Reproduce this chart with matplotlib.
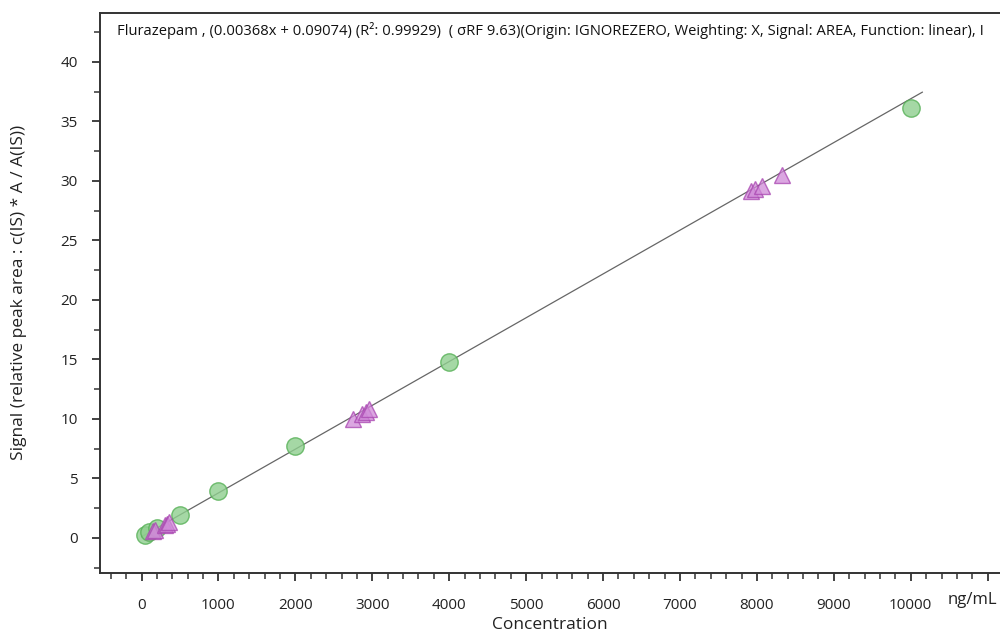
import numpy as np
import matplotlib
matplotlib.use('Agg')
import matplotlib.pyplot as plt
from matplotlib.ticker import MultipleLocator

# calibration standards (green circles)
std_conc = [50, 100, 200, 500, 1000, 2000, 4000, 10000]
std_signal = [0.25, 0.5, 0.85, 1.95, 3.95, 7.75, 14.75, 36.1]

# QC samples (purple triangles)
qc_conc = [150, 170, 300, 330, 360, 2750, 2870, 2920, 2960, 7920, 7980, 8060, 8320]
qc_signal = [0.55, 0.65, 1.05, 1.15, 1.3, 10.0, 10.4, 10.6, 10.85, 29.1, 29.3, 29.6, 30.5]

slope = 0.00368
intercept = 0.09074
line_x = [0, 10150]

title = ("Flurazepam , (0.00368x + 0.09074) (R\u00b2: 0.99929)  ( \u03c3RF 9.63)"
         "(Origin: IGNOREZERO, Weighting: X, Signal: AREA, Function: linear), I")

plt.rcParams['font.family'] = ['Open Sans', 'DejaVu Sans']

fig = plt.figure(figsize=(10, 6.32), dpi=100)
ax = fig.add_axes([0.1, 0.0935, 0.9, 0.886])

lx = np.array(line_x)
ax.plot(lx, slope * lx + intercept, color='#666666', lw=0.9, zorder=2)
ax.plot(std_conc, std_signal, 'o', ms=12.5, mfc='#8fcf8f', mec='#55b055',
        alpha=0.8, mew=1.0, zorder=3)
ax.plot(qc_conc, qc_signal, '^', ms=12, mfc='#d08ad8', mec='#a845b0',
        alpha=0.75, mew=1.0, zorder=4)

ax.set_xlim(-540, 11160)
ax.set_ylim(-2.95, 44.1)

ax.xaxis.set_major_locator(MultipleLocator(1000))
ax.xaxis.set_minor_locator(MultipleLocator(200))
ax.yaxis.set_major_locator(MultipleLocator(5))
ax.yaxis.set_minor_locator(MultipleLocator(2.5))

ax.set_xticks(range(0, 12000, 1000))
ax.set_xticklabels([str(v) for v in range(0, 11000, 1000)] + [''])

for s in ['left', 'bottom', 'top']:
    ax.spines[s].set_color('#333333')
    ax.spines[s].set_linewidth(1.4)
ax.spines['right'].set_visible(False)

ax.tick_params(axis='both', which='major', length=6, width=1.3, color='#333333',
               labelsize=11, labelcolor='#222222')
ax.tick_params(axis='x', which='major', pad=12)
ax.tick_params(axis='y', which='major', pad=10)
ax.tick_params(axis='both', which='minor', length=4, width=1.1, color='#333333')

ax.set_xlabel('Concentration', fontsize=12.5, color='#222222', labelpad=3)
ax.set_ylabel('Signal (relative peak area : c(IS) * A / A(IS))', fontsize=12.5,
              color='#222222', labelpad=24)

ax.text(0.019, 0.984, title, transform=ax.transAxes, fontsize=10.6, ha='left',
        va='top', color='#111111', clip_on=False)
fig.text(0.972, 0.05, 'ng/mL', fontsize=12, ha='center', va='center', color='#222222')

fig.savefig('out.png', dpi=100)
